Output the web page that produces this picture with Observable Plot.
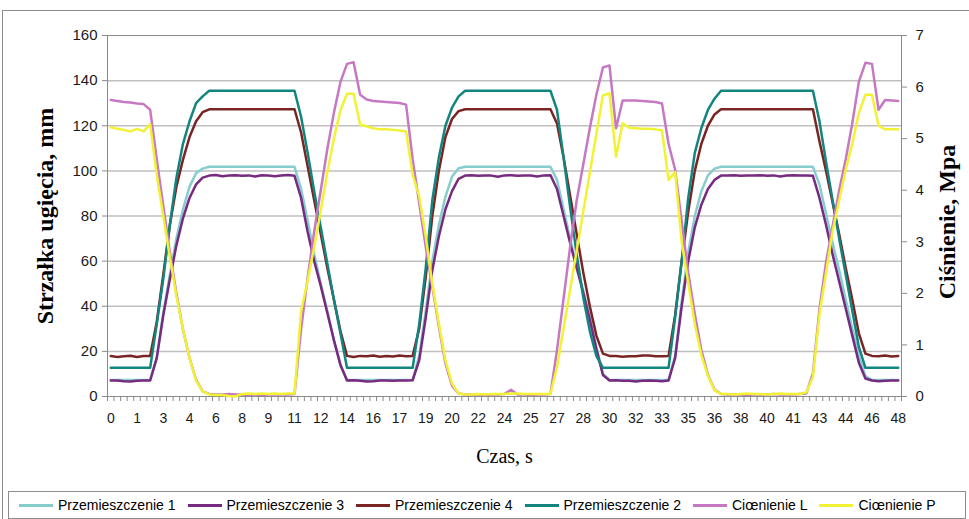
<!DOCTYPE html>
<html><head><meta charset="utf-8">
<script src="https://cdn.jsdelivr.net/npm/d3@7"></script>
<script src="https://cdn.jsdelivr.net/npm/@observablehq/plot@0.6"></script>
<style>
html,body{margin:0;padding:0;background:#fff;overflow:hidden}
#wrap{position:relative;width:969px;height:519px;overflow:hidden;font-family:"Liberation Sans",Arial,sans-serif}
#outer{position:absolute;left:2px;top:10px;width:1000px;height:600px;border:1px solid #8c8c8c;box-sizing:border-box}
#chart{position:absolute;left:0;top:0}
#legend{position:absolute;left:8px;top:491px;width:958px;height:28px;border:1px solid #8c8c8c;box-sizing:border-box;display:flex;align-items:center;padding-left:10px;font-size:14px;color:#000;white-space:nowrap;background:#fff}
.item{display:flex;align-items:center;margin-right:12px}
.sw{width:34px;height:3px;margin-right:5px}
</style>
</head>
<body>
<div id="wrap"><div id="outer"></div><div id="chart"></div><div id="legend"></div></div>
<script>
// x-axis tick labels (Czas, s) shown every 4th sample
const timeLabels = [0,1,3,4,6,8,9,11,12,14,16,17,19,20,22,24,25,27,28,30,32,33,35,36,38,40,41,43,44,46,48];
const mmTicks = [0,20,40,60,80,100,120,140,160];
const mpaTicks = [0,1,2,3,4,5,6,7];

const names = ["Przemieszczenie 1","Przemieszczenie 3","Przemieszczenie 4","Przemieszczenie 2","Ciœnienie L","Ciœnienie P"];
const colors = ["#86cece","#772a80","#7b2424","#12857f","#c679c2","#f2f234"];

// displacement, mm
const p1 = [
7.3,7.3,7.3,7.3,7.3,7.3,7.3,17,37,54,
70,83,93,99,101,101.8,101.8,101.8,101.8,101.8,
101.8,101.8,101.8,101.8,101.8,101.8,101.8,101.8,101.8,92,
78,63,50,38,25,14,7.3,7.3,7.3,7.3,
7.3,7.3,7.3,7.3,7.3,7.3,7.3,18,38,60,
76,88.6,97.5,101.2,101.8,101.8,101.8,101.8,101.8,101.8,
101.8,101.8,101.8,101.8,101.8,101.8,101.8,101.8,96,83,
70,58,47,35,22,10,7.3,7.3,7.3,7.3,
7.3,7.3,7.3,7.3,7.3,7.3,18,42,64,80,
91,98,101,101.8,101.8,101.8,101.8,101.8,101.8,101.8,
101.8,101.8,101.8,101.8,101.8,101.8,101.8,101.8,94,81,
68,56,43,30,18,9,7.3,7.3,7.3,7.3,
7.3];
const p3 = [
7.1,7.1,6.8,6.6,7,7.1,7.1,17,36,52,
67,79,88,94,97,97.9,98.2,97.6,97.9,98.1,
97.8,98,97.5,98.1,97.9,97.6,98,98.2,97.8,88,
73,60,49,37,25,14,7.1,7.2,7,6.6,
6.8,7.1,7.1,7,7.1,7.1,7.2,16,35,56,
71,83,91,96.5,97.9,98.1,97.8,98,97.9,97.4,
98,98.1,97.8,98,97.9,97.5,98,98.1,92,80,
68,57,46,34,21,9.5,7.1,7.2,7,7,
6.6,7,7.1,7,6.8,7.1,17,40,60,75,
85,92,96,97.9,98,98.1,97.8,98,97.9,98.1,
97.8,98,97.5,97.9,98.1,97.9,98,97.8,88,76,
63,51,39,27,15,8,7.1,6.8,7,7.1,
7.1];
const p4 = [
17.9,17.5,17.8,18.1,17.5,17.9,18,33,54,76,
93,105,115,122,126,127.3,127.3,127.3,127.3,127.3,
127.3,127.3,127.3,127.3,127.3,127.3,127.3,127.3,127.3,117,
102,87,72,57,43,29,18,17.5,18,17.8,
18.2,17.6,18,17.7,18.2,17.8,18,30,53,80,
100,115,123,126.5,127.3,127.3,127.3,127.3,127.3,127.3,
127.3,127.3,127.3,127.3,127.3,127.3,127.3,127.3,121,106,
89,72,55,40,27,19,18,18,17.6,17.8,
17.8,18.2,18.2,17.8,17.8,18,36,60,82,100,
112,120,125,127.3,127.3,127.3,127.3,127.3,127.3,127.3,
127.3,127.3,127.3,127.3,127.3,127.3,127.3,127.3,113,100,
86,72,57,43,28,19,18,17.8,18.2,17.7,
18];
const p2 = [
12.7,12.7,12.7,12.7,12.7,12.7,12.7,32,52,76,
97,112,122,130,133,135.5,135.5,135.5,135.5,135.5,
135.5,135.5,135.5,135.5,135.5,135.5,135.5,135.5,135.5,124,
108,91,75,59,43,28,12.7,12.7,12.7,12.7,
12.7,12.7,12.7,12.7,12.7,12.7,12.7,32,57,87,
106,120,128,133,135.5,135.5,135.5,135.5,135.5,135.5,
135.5,135.5,135.5,135.5,135.5,135.5,135.5,135.5,127,106,
84,63,44,29,18,12.7,12.7,12.7,12.7,12.7,
12.7,12.7,12.7,12.7,12.7,12.7,35,60,88,108,
119,127,132,135.5,135.5,135.5,135.5,135.5,135.5,135.5,
135.5,135.5,135.5,135.5,135.5,135.5,135.5,135.5,122,104,
87,70,54,38,22,12.7,12.7,12.7,12.7,12.7,
12.7];
// pressure, MPa
const pL = [
5.75,5.73,5.71,5.70,5.68,5.67,5.56,4.6,3.7,2.8,
2.0,1.3,0.75,0.32,0.1,0.05,0.04,0.04,0.05,0.04,
0.04,0.03,0.04,0.03,0.04,0.04,0.04,0.04,0.05,1.3,
2.3,3.2,4.0,4.8,5.5,6.1,6.45,6.48,5.85,5.76,
5.73,5.72,5.71,5.70,5.69,5.66,4.6,3.75,2.9,2.13,
1.35,0.64,0.21,0.06,0.04,0.04,0.04,0.03,0.04,0.04,
0.05,0.13,0.04,0.04,0.03,0.04,0.04,0.05,0.9,1.9,
2.9,3.8,4.5,5.2,5.85,6.38,6.42,5.2,5.74,5.74,
5.74,5.73,5.72,5.71,5.68,4.9,4.4,3.4,2.4,1.6,
0.9,0.42,0.13,0.05,0.04,0.04,0.04,0.03,0.04,0.04,
0.04,0.05,0.04,0.04,0.04,0.05,0.06,0.45,1.7,2.6,
3.3,4.0,4.6,5.3,6.1,6.47,6.45,5.56,5.75,5.74,
5.73];
const pP = [
5.22,5.19,5.17,5.14,5.19,5.14,5.28,4.3,3.5,2.7,
1.95,1.3,0.75,0.3,0.1,0.04,0.03,0.03,0.01,0,
0.05,0.06,0.05,0.06,0.05,0.06,0.05,0.06,0.06,1.65,
2.25,2.9,3.6,4.35,5.0,5.55,5.87,5.87,5.27,5.24,
5.2,5.18,5.18,5.17,5.16,5.14,4.3,3.88,3.1,2.19,
1.41,0.7,0.25,0.06,0.04,0.04,0.05,0.04,0.05,0.05,
0.05,0.06,0.06,0.05,0.05,0.05,0.05,0.05,0.57,1.32,
2.07,2.83,3.58,4.34,5.09,5.84,5.88,4.65,5.3,5.21,
5.2,5.19,5.19,5.18,5.16,4.2,4.35,3.0,2.2,1.4,
0.8,0.4,0.12,0.05,0.05,0.04,0.05,0.06,0.05,0.05,
0.04,0.05,0.06,0.05,0.05,0.05,0.08,0.38,1.6,2.4,
3.2,3.8,4.4,4.9,5.5,5.85,5.85,5.25,5.18,5.18,
5.18];

const mmPerMpa = 160 / 7;
const idx = d3.range(p1.length);
const boundaries = d3.range(-0.5, p1.length, 1);
const labelIdx = timeLabels.map((t, k) => k * 4);
const axisGray = "#8a8a8a";
const serif = '"Liberation Serif","Times New Roman",serif';

const series = [
  {vals: p1, scale: 1}, {vals: p3, scale: 1}, {vals: p4, scale: 1},
  {vals: p2, scale: 1}, {vals: pL, scale: mmPerMpa}, {vals: pP, scale: mmPerMpa}
];

const chart = Plot.plot({
  width: 969, height: 488,
  marginLeft: 107, marginRight: 68, marginTop: 35, marginBottom: 92,
  style: {fontFamily: '"Liberation Sans",Arial,sans-serif', fontSize: "15px", color: "#1a1a1a", background: "transparent"},
  x: {domain: [-0.5, p1.length - 0.5]},
  y: {domain: [0, 160]},
  marks: [
    Plot.ruleY(mmTicks.slice(1, -1), {stroke: "#bfbfbf", strokeWidth: 1.5}),
    Plot.ruleY([160, 0], {stroke: axisGray}),
    Plot.ruleX([-0.5, p1.length - 0.5], {stroke: axisGray}),
    Plot.axisY(mmTicks, {anchor: "left", tickSize: 5, tickPadding: 5, fontSize: 15, label: null, stroke: axisGray}),
    Plot.axisY(mpaTicks.map(p => p * mmPerMpa), {anchor: "right", tickSize: 5, tickPadding: 9, fontSize: 15, label: null, stroke: axisGray, tickFormat: d => Math.round(d / mmPerMpa)}),
    Plot.axisX(boundaries, {tickSize: 5, tickFormat: () => "", label: null, stroke: axisGray}),
    Plot.axisX(labelIdx, {tickSize: 0, tickPadding: 17, fontSize: 14, label: null, tickFormat: d => timeLabels[Math.round(d / 4)]}),
    ...series.map((s, k) => Plot.line(idx, {x: d => d, y: d => s.vals[d] * s.scale, stroke: colors[k], strokeWidth: 2.5})),
    Plot.text(["Strzałka ugięcia, mm"], {frameAnchor: "left", dx: -62, rotate: -90, textAnchor: "middle", fontSize: 24, fontWeight: "bold", fontFamily: serif, fill: "#000"}),
    Plot.text(["Ciśnienie, Mpa"], {frameAnchor: "right", dx: 46, dy: 6, rotate: -90, textAnchor: "middle", fontSize: 24, fontWeight: "bold", fontFamily: serif, fill: "#000"}),
    Plot.text(["Czas, s"], {frameAnchor: "bottom", dy: 66, textAnchor: "middle", fontSize: 20, fontFamily: serif, fill: "#000"})
  ]
});
document.getElementById("chart").appendChild(chart);

const leg = document.getElementById("legend");
names.forEach((nm, k) => {
  const it = document.createElement("div"); it.className = "item";
  const sw = document.createElement("div"); sw.className = "sw"; sw.style.background = colors[k];
  const tx = document.createElement("span"); tx.textContent = nm;
  it.appendChild(sw); it.appendChild(tx); leg.appendChild(it);
});
</script>
</body></html>
